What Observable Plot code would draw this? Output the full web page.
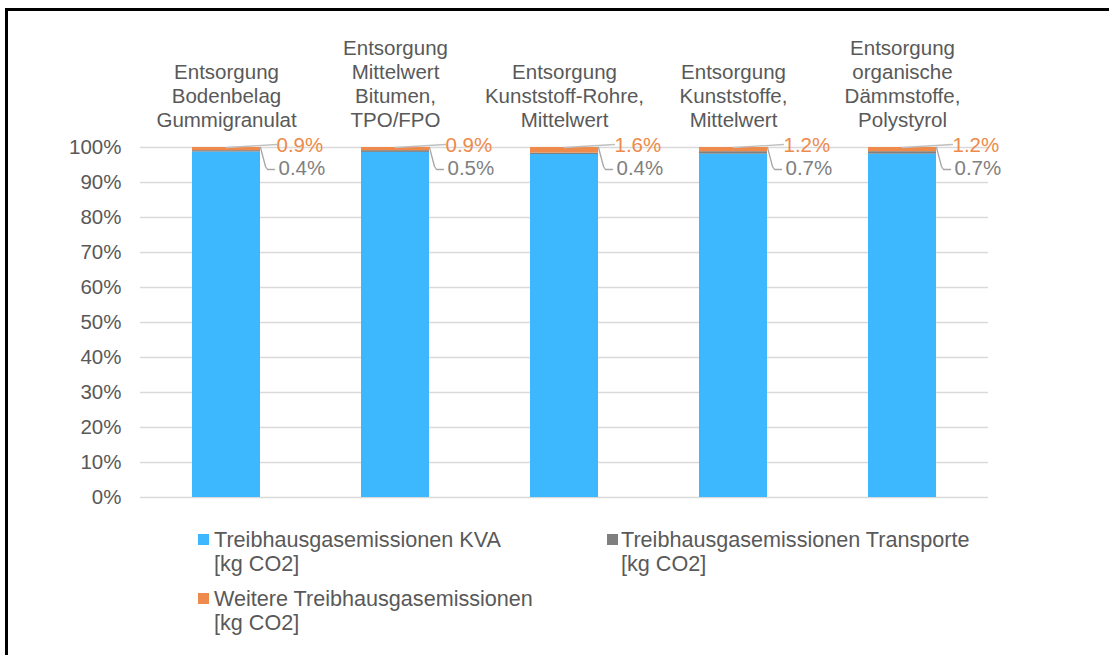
<!DOCTYPE html>
<html>
<head>
<meta charset="utf-8">
<script src="https://cdn.jsdelivr.net/npm/d3@7"></script>
<script src="https://cdn.jsdelivr.net/npm/@observablehq/plot@0.6"></script>
<style>
  html, body { margin: 0; padding: 0; background: #fff; }
  #wrap { position: relative; width: 1109px; height: 655px; overflow: hidden; font-family: "Liberation Sans", Arial, sans-serif; }
  #frame { position: absolute; left: 5px; top: 8px; width: 1200px; height: 700px; border-left: 3px solid #000; border-top: 3px solid #000; }
  #chart { position: absolute; left: 0; top: 0; }
  .leg { position: absolute; font-size: 21.6px; line-height: 24px; color: #595959; white-space: nowrap; }
  .sw { position: absolute; width: 11px; height: 11px; }
</style>
</head>
<body>
<div id="wrap">
  <div id="frame"></div>
  <div id="chart"></div>
  <div id="legend"></div>
</div>
<script>
const categories = [
  "Entsorgung\nBodenbelag\nGummigranulat",
  "Entsorgung\nMittelwert\nBitumen,\nTPO/FPO",
  "Entsorgung\nKunststoff-Rohre,\nMittelwert",
  "Entsorgung\nKunststoffe,\nMittelwert",
  "Entsorgung\norganische\nDämmstoffe,\nPolystyrol"
];
const kva = [98.7, 98.6, 98.0, 98.1, 98.1];
const transporte = [0.4, 0.5, 0.4, 0.7, 0.7];
const weitere = [0.9, 0.9, 1.6, 1.2, 1.2];
const seriesNames = [
  "Treibhausgasemissionen KVA\n[kg CO2]",
  "Treibhausgasemissionen Transporte\n[kg CO2]",
  "Weitere Treibhausgasemissionen\n[kg CO2]"
];
const seriesColors = ["#3DB7FD", "#7F7F7F", "#EE8A4B"];
const yTicks = [0, 10, 20, 30, 40, 50, 60, 70, 80, 90, 100];

const seriesValues = [kva, transporte, weitere];
const rows = [];
categories.forEach((c, i) => {
  seriesNames.forEach((s, j) => rows.push({cat: c, series: s, value: seriesValues[j][i]}));
});
const tops = categories.map((c, i) => ({
  cat: c,
  total: kva[i] + transporte[i] + weitere[i],
  weitere: weitere[i],
  transporte: transporte[i]
}));

const fmt = d3.format(".1f");
const diagShape = {draw(ctx) { ctx.moveTo(0, 0); ctx.lineTo(50, -3); }};
const elbowShape = {draw(ctx) { ctx.moveTo(34, 0); ctx.lineTo(39, 19); ctx.lineTo(41, 22); ctx.lineTo(48, 22); }};

const W = 1109, H = 520;
const chart = Plot.plot({
  width: W,
  height: H,
  marginTop: 147,
  marginBottom: H - 497,
  marginLeft: 140,
  marginRight: W - 988,
  style: {fontFamily: "'Liberation Sans', Arial, sans-serif", fontSize: "20.5px", color: "#595959", background: "transparent"},
  x: {domain: categories, paddingInner: 0.6, paddingOuter: 0.3, axis: null},
  y: {domain: [0, 100], ticks: yTicks, tickFormat: d => d + "%", tickSize: 0, tickPadding: 19, label: null},
  color: {domain: seriesNames, range: seriesColors},
  marks: [
    Plot.gridY(yTicks, {stroke: "#D9D9D9", strokeOpacity: 1, strokeWidth: 1.3}),
    Plot.barY(rows, {x: "cat", y: "value", fill: "series"}),
    Plot.vector(tops, {x: "cat", y: "total", length: 1, anchor: "start", shape: diagShape, stroke: "#BFBFBF", strokeWidth: 1.3}),
    Plot.vector(tops, {x: "cat", y: "total", length: 1, anchor: "start", shape: elbowShape, stroke: "#A6A6A6", strokeWidth: 1.3}),
    Plot.text(tops, {x: "cat", y: "total", text: d => fmt(d.weitere) + "%", dx: 50, dy: -2, textAnchor: "start", fill: "#EE8A4B", fontSize: 20.5}),
    Plot.text(tops, {x: "cat", y: "total", text: d => fmt(d.transporte) + "%", dx: 52, dy: 21, textAnchor: "start", fill: "#7F7F7F", fontSize: 20.5}),
    Plot.text(tops, {x: "cat", y: "total", text: "cat", lineAnchor: "bottom", dy: -21, lineHeight: 1.17, fill: "#595959", fontSize: 20.5})
  ]
});
document.getElementById("chart").appendChild(chart);

// legend
const legendPos = [
  {sx: 198, sy: 534, tx: 214, ty: 528},
  {sx: 607, sy: 534, tx: 621, ty: 528},
  {sx: 198, sy: 593, tx: 214, ty: 587}
];
const leg = document.getElementById("legend");
seriesNames.forEach((s, j) => {
  const p = legendPos[j];
  const sw = document.createElement("div");
  sw.className = "sw";
  sw.style.left = p.sx + "px"; sw.style.top = p.sy + "px"; sw.style.background = seriesColors[j];
  leg.appendChild(sw);
  const t = document.createElement("div");
  t.className = "leg";
  t.style.left = p.tx + "px"; t.style.top = p.ty + "px";
  t.innerHTML = s.split("\n").join("<br>");
  leg.appendChild(t);
});
</script>
</body>
</html>
